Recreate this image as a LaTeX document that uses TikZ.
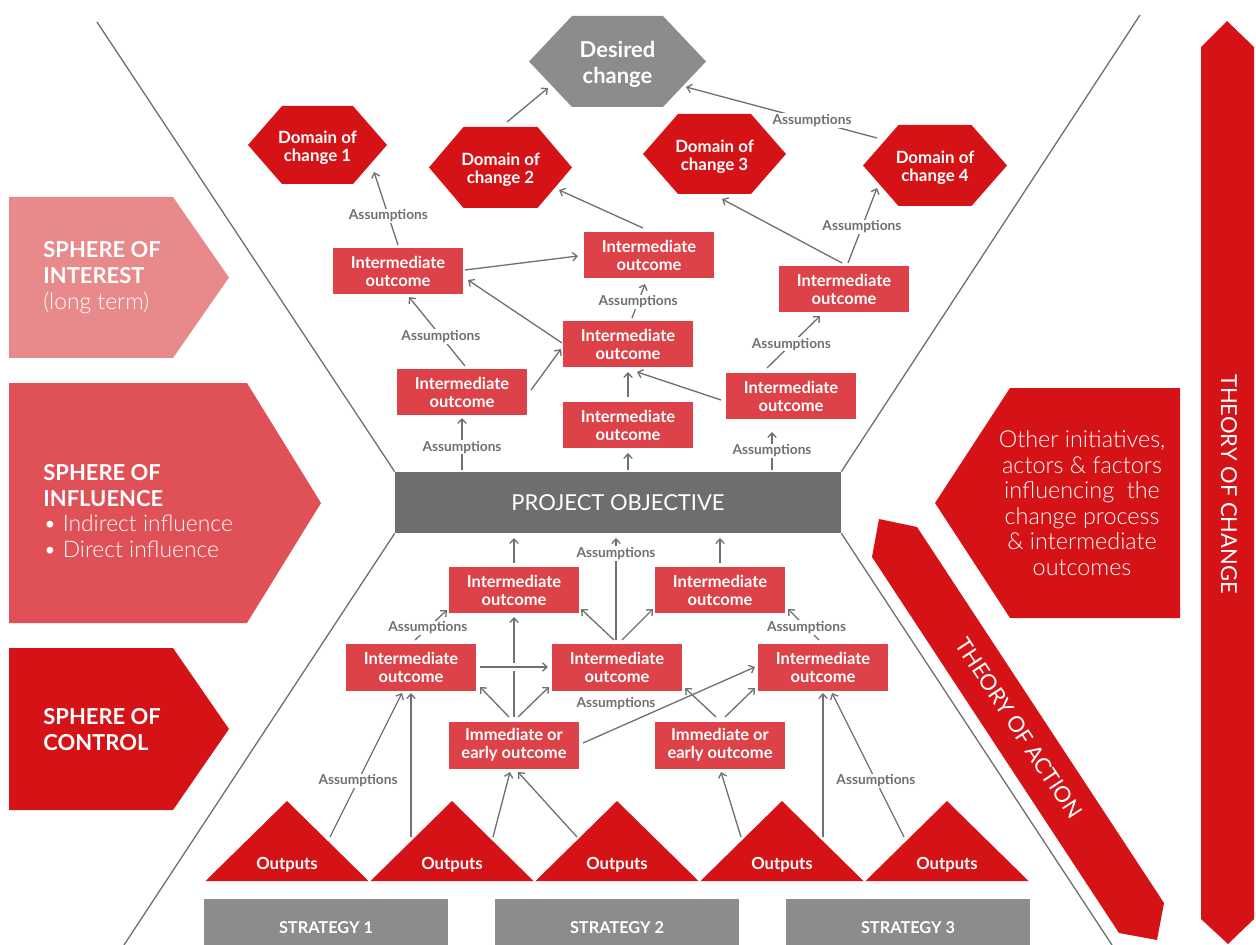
\documentclass[tikz,border=0pt]{standalone}
\usepackage{fontspec}
\setmainfont{Lato}
\newfontfamily\lightfont{Lato Light}
\usetikzlibrary{arrows.meta,calc}
\definecolor{redD}{HTML}{D51317}
\definecolor{redM}{HTML}{DC4247}
\definecolor{redI}{HTML}{E05157}
\definecolor{pinkL}{HTML}{E8898B}
\definecolor{greyD}{HTML}{6E6E6E}
\definecolor{greyL}{HTML}{8C8C8C}
\definecolor{lineC}{HTML}{707070}
\newcommand\hexfill[6]{\fill[#1] (#2-#4,#3) -- (#2-#5,#3-#6) -- (#2+#5,#3-#6) -- (#2+#4,#3) -- (#2+#5,#3+#6) -- (#2-#5,#3+#6) -- cycle;}
\newcommand\lightsty{\mdseries\lightfont}
\tikzset{
  io/.style={fill=redM,text=white,font=\bfseries\fontsize{9.4}{10.2}\selectfont,align=center,minimum width=2.6cm,minimum height=0.94cm,inner sep=0pt},
  hext/.style={text=white,font=\bfseries\fontsize{9.6}{10}\selectfont,align=center,inner sep=0pt},
  conn/.style={draw=lineC,line width=0.75pt,-{Straight Barb[length=2.6pt,width=4.8pt]}},
  divline/.style={draw=lineC,line width=0.75pt},
  assum/.style={text=lineC,font=\bfseries\fontsize{7.8}{8}\selectfont,fill=white,inner sep=0.6pt},
  sph/.style={text=white,font=\bfseries\fontsize{12.5}{14.7}\selectfont,align=left,anchor=west,inner sep=0pt},
  outt/.style={text=white,font=\bfseries\fontsize{9.5}{10}\selectfont,inner sep=0pt},
  stratt/.style={text=white,font=\bfseries\fontsize{9.3}{10}\selectfont,inner sep=0pt},
  bigt/.style={text=white,font=\fontsize{12.5}{14}\selectfont,inner sep=0pt},
}
\begin{document}
\begin{tikzpicture}[x=0.02cm,y=-0.02cm]
\useasboundingbox (0,0) rectangle (1256,945);
% spheres
\fill[pinkL] (9,197) -- (173,197) -- (229,277.5) -- (173,358) -- (9,358) -- cycle;
\node[sph] (sInt) at (43,277.5) {SPHERE OF\\INTEREST\\{\lightsty\fontsize{13}{14.7}\selectfont (long term)}};
\fill[redI] (9,383) -- (247,383) -- (321,503) -- (247,623) -- (9,623) -- cycle;
\node[sph] (sInf) at (43,511) {SPHERE OF\\INFLUENCE\\{\lightsty\fontsize{13}{14.7}\selectfont • Indirect influence}\\{\lightsty\fontsize{13}{14.7}\selectfont • Direct influence}};
\fill[redD] (9,648) -- (173,648) -- (229,729) -- (173,810) -- (9,810) -- cycle;
\node[sph] (sCon) at (43,729.5) {SPHERE OF\\CONTROL};
% right side shapes
\fill[redD] (1010,388) -- (1180,388) -- (1180,618) -- (1010,618) -- (935,503) -- cycle;
\node[text=white,font=\lightsty\fontsize{13.3}{14.5}\selectfont,align=center,inner sep=0pt] (oth) at (1082,503) {Other initiatives,\\actors \& factors\\influencing~ the\\change process\\\& intermediate\\outcomes};
\fill[redD] (872,557) -- (879,519) -- (917,527) -- (1164,903) -- (1157,940) -- (1119,933) -- cycle;
\node[bigt,rotate=-56.7] (toa) at (1019,728) {THEORY OF ACTION};
\fill[redD] (1201,47) -- (1227,21) -- (1254,47) -- (1254,919) -- (1228,944) -- (1201,919) -- cycle;
\node[bigt,rotate=-90] (toc) at (1229,484) {THEORY OF CHANGE};
% project objective and dividers
\node[fill=greyD,text=white,font=\fontsize{12.5}{14}\selectfont,minimum width=8.92cm,minimum height=1.22cm,inner sep=0pt] (po) at (618,502.5) {PROJECT OBJECTIVE};
\coordinate (tl) at (97,22);
\coordinate (bl) at (124,945);
\coordinate (tr) at (1140,15);
\coordinate (br) at (1112,945);
\draw[divline] (tl) -- (po.north west);
\draw[divline] (po.south west) -- (bl);
\draw[divline] (tr) -- (po.north east);
\draw[divline] (po.south east) -- (br);
% hexagons
\hexfill{greyL}{617.5}{61.5}{88.5}{45.5}{45.5}
\node[hext,font=\bfseries\fontsize{12.5}{14.7}\selectfont] (dc) at (617.5,64.5) {Desired\\change};
\hexfill{redD}{317.5}{145}{69.5}{35.5}{39}
\node[hext] (d1) at (317.5,147.5) {Domain of\\change 1};
\hexfill{redD}{500.5}{167.5}{71.5}{37}{40.5}
\node[hext] (d2) at (500.5,170) {Domain of\\change 2};
\hexfill{redD}{714.5}{154}{71.5}{36.5}{40}
\node[hext] (d3) at (714.5,156.5) {Domain of\\change 3};
\hexfill{redD}{935}{165.5}{72}{36.5}{40.5}
\node[hext] (d4) at (935,168) {Domain of\\change 4};
% intermediate outcomes (upper)
\node[io] (ioA) at (398,271) {Intermediate\\outcome};
\node[io] (ioB) at (649,255) {Intermediate\\outcome};
\node[io] (ioC) at (844,289) {Intermediate\\outcome};
\node[io] (ioD) at (628,344) {Intermediate\\outcome};
\node[io] (ioE) at (462,392) {Intermediate\\outcome};
\node[io] (ioF) at (628,425) {Intermediate\\outcome};
\node[io] (ioG) at (791,396) {Intermediate\\outcome};
% lower
\node[io] (ioH) at (514,590) {Intermediate\\outcome};
\node[io] (ioI) at (720,590) {Intermediate\\outcome};
\node[io] (ioJ) at (411,667) {Intermediate\\outcome};
\node[io] (ioK) at (617,667) {Intermediate\\outcome};
\node[io] (ioL) at (823,667) {Intermediate\\outcome};
\node[io] (im1) at (514,745) {Immediate or\\early outcome};
\node[io] (im2) at (720,745) {Immediate or\\early outcome};
% outputs
\foreach \cx/\n in {287/1,452/2,617/3,782/4,947/5}{
  \fill[redD] (\cx-81.5,881) -- (\cx,801) -- (\cx+81.5,881) -- cycle;
  \node[outt] (out\n) at (\cx,865) {Outputs};
}
% strategies
\fill[greyL] (204,899) rectangle (448,945);
\node[stratt] (s1) at (326,928) {STRATEGY 1};
\fill[greyL] (495,899) rectangle (739,945);
\node[stratt] (s2) at (617,928) {STRATEGY 2};
\fill[greyL] (786,899) rectangle (1030,945);
\node[stratt] (s3) at (908,928) {STRATEGY 3};
% upper connectors
\draw[conn] ($(ioA)+(0,-26)$) -- node[assum,pos=.4] (a1) {Assumptions} ($(d1)+(56.5,24.5)$);
\draw[conn] ($(ioA)+(67,-1)$) -- ($(ioB)+(-71,1)$);
\draw[conn] ($(ioE)+(3,-26)$) -- node[assum,pos=.43] (a2) {Assumptions} ($(ioA)+(11,26)$);
\draw[conn] ($(ioD)+(-66,-1)$) -- ($(ioA)+(70,9)$);
\draw[conn] ($(ioE)+(69,-2)$) -- ($(ioD)+(-67,5)$);
\draw[conn] ($(po)+(-156,-32.5)$) -- node[assum,pos=.44] (a3) {Assumptions} ($(ioE)+(0,26)$);
\draw[conn] ($(po)+(10,-32.5)$) -- ($(ioF)+(0,28)$);
\draw[conn] ($(ioF)+(0,-28)$) -- ($(ioD)+(0,28)$);
\draw[conn] ($(ioG)+(-70,4)$) -- ($(ioD)+(9,28)$);
\draw[conn] ($(ioD)+(4,-26)$) -- node[assum,pos=.47] (a4) {Assumptions} ($(ioB)+(-4,29)$);
\draw[conn] ($(ioB)+(-6,-27)$) -- ($(d2)+(58.5,20)$);
\draw[conn] ($(d2)+(6.5,-48)$) -- ($(dc)+(-69.5,23.5)$);
\draw[conn] ($(d4)+(-58,-30)$) -- node[assum,pos=.34] (a5) {Assumptions} ($(dc)+(68.5,22.5)$);
\draw[conn] ($(ioC)+(4,-26)$) -- node[assum,pos=.48] (a6) {Assumptions} ($(d4)+(-58,20)$);
\draw[conn] ($(ioC)+(-2,-26)$) -- ($(d3)+(7.5,42.5)$);
\draw[conn] ($(ioG)+(-24,-28)$) -- node[assum,pos=.46] (a7) {Assumptions} ($(ioC)+(-24,27)$);
\draw[conn] ($(po)+(154,-32.5)$) -- node[assum,pos=.5] (a8) {Assumptions} ($(ioG)+(-19,36)$);
% lower connectors
\draw[conn] ($(ioH)+(0,-27)$) -- ($(po)+(-104,35.5)$);
\draw[conn] ($(ioI)+(0,-27)$) -- ($(po)+(102,35.5)$);
\draw[conn] ($(ioK)+(-1,-27)$) -- node[assum,pos=.85] (a9) {Assumptions} ($(po)+(-2,35.5)$);
\draw[conn] ($(ioK)+(-3,-27)$) -- ($(ioH)+(67,19)$);
\draw[conn] ($(ioK)+(5,-27)$) -- ($(ioI)+(-67,19)$);
\draw[conn] ($(ioJ)+(4,-27)$) -- node[assum,pos=.4] (a10) {Assumptions} ($(ioH)+(-67,20)$);
\draw[conn] ($(ioL)+(-4,-27)$) -- node[assum,pos=.4] (a11) {Assumptions} ($(ioI)+(68,19)$);
\draw[conn] ($(im1)+(0,-28)$) -- ($(ioH)+(0,27)$);
\draw[white,line width=4pt] ($(ioJ)+(95,0)$) -- ($(ioK)+(-95,0)$);
\draw[conn] ($(ioJ)+(69,0)$) -- ($(ioK)+(-69,0)$);
\draw[conn] ($(im1)+(-5,-28)$) -- ($(ioJ)+(69,20)$);
\draw[conn] ($(im1)+(4,-28)$) -- ($(ioK)+(-68,20)$);
\draw[conn] ($(im1)+(69,-2)$) -- ($(ioL)+(-68,0)$);
\node[assum,fill=none] (a12) at ($(ioK)+(-1,37)$) {Assumptions};
\draw[conn] ($(im2)+(-4,-28)$) -- ($(ioK)+(68,21)$);
\draw[conn] ($(im2)+(5,-28)$) -- ($(ioL)+(-68,21)$);
\draw[conn] ($(out1)+(43,-28)$) -- node[assum,pos=.39] (a13) {Assumptions} ($(ioJ)+(-9,26)$);
\draw[conn] ($(out2)+(-41,-28)$) -- ($(ioJ)+(0,26)$);
\draw[conn] ($(out2)+(41,-28)$) -- ($(im1)+(-4,27)$);
\draw[conn] ($(out3)+(-40,-28)$) -- ($(im1)+(4,27)$);
\draw[conn] ($(out4)+(-41,-28)$) -- ($(im2)+(1,27)$);
\draw[conn] ($(out4)+(41,-28)$) -- ($(ioL)+(0,26)$);
\draw[conn] ($(out5)+(-43,-28)$) -- node[assum,pos=.39] (a14) {Assumptions} ($(ioL)+(9,26)$);
\end{tikzpicture}
\end{document}
